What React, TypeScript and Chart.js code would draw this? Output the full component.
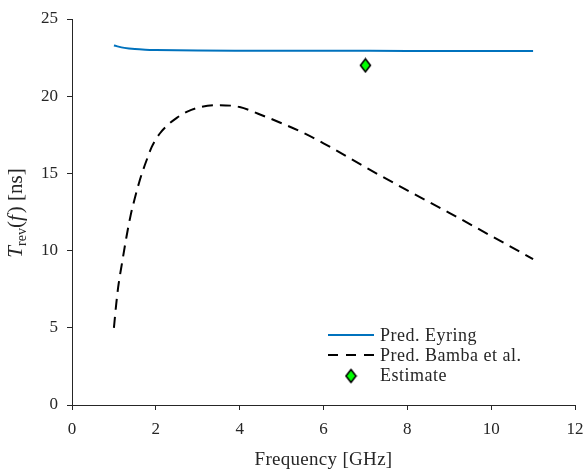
import React, { useEffect, useRef } from "react";
import { Chart, registerables } from "chart.js";

Chart.register(...registerables);

const eyringFreq = [1, 1.25, 1.5, 1.75, 2, 2.5, 3, 4, 5, 6, 8, 10, 11];
const eyringT = [23.28, 23.13, 23.05, 23.01, 22.99, 22.97, 22.96, 22.95, 22.945, 22.94, 22.935, 22.93, 22.93];

const bambaFreq = [1, 1.05, 1.1, 1.2, 1.3, 1.4, 1.5, 1.6, 1.7, 1.8, 1.9, 2, 2.1, 2.25, 2.5, 2.75, 3, 3.5, 4, 4.5, 5, 5.5, 6, 7, 8, 9, 10, 11];
const bambaT = [5.0, 6.4, 7.6, 9.3, 10.9, 12.3, 13.4, 14.4, 15.25, 16.0, 16.7, 17.2, 17.6, 18.05, 18.6, 19.0, 19.25, 19.42, 19.3, 18.8, 18.25, 17.65, 16.95, 15.4, 13.9, 12.45, 10.95, 9.45];

const estimateFreq = [7];
const estimateT = [22];

const legendLabels = ["Pred. Eyring", "Pred. Bamba et al.", "Estimate"];
const xTitle = "Frequency [GHz]";

const BLUE = "#0072BD";
const AXIS = "#262626";
const SERIF = '"Liberation Serif", "Times New Roman", serif';

function makeDiamond(w: number, h: number): HTMLCanvasElement {
  const c = document.createElement("canvas");
  c.width = w + 3;
  c.height = h + 3;
  const g = c.getContext("2d")!;
  const cx = c.width / 2;
  const cy = c.height / 2;
  g.beginPath();
  g.moveTo(cx, 1.5);
  g.lineTo(c.width - 1.5, cy);
  g.lineTo(cx, c.height - 1.5);
  g.lineTo(1.5, cy);
  g.closePath();
  g.fillStyle = "#00FF00";
  g.fill();
  g.lineWidth = 1.6;
  g.strokeStyle = "#000000";
  g.stroke();
  return c;
}

export default function App() {
  const ref = useRef<HTMLCanvasElement | null>(null);

  useEffect(() => {
    if (!ref.current) return;
    const diamond = makeDiamond(10, 13);

    const overlay = {
      id: "overlay",
      afterDraw(chart: any) {
        const ctx = chart.ctx as CanvasRenderingContext2D;
        const ca = chart.chartArea;
        ctx.save();
        // Legend
        const lx0 = ca.right - 247;
        const lx1 = ca.right - 201;
        const tx = ca.right - 195;
        const rows = [ca.bottom - 70, ca.bottom - 50, ca.bottom - 30];
        ctx.font = `18px ${SERIF}`;
        (ctx as any).letterSpacing = "0.5px";
        ctx.fillStyle = AXIS;
        ctx.textBaseline = "middle";
        ctx.textAlign = "left";
        ctx.strokeStyle = BLUE;
        ctx.lineWidth = 2;
        ctx.setLineDash([]);
        ctx.beginPath();
        ctx.moveTo(lx0, rows[0]);
        ctx.lineTo(lx1, rows[0]);
        ctx.stroke();
        ctx.strokeStyle = "#000";
        ctx.setLineDash([10, 8]);
        ctx.beginPath();
        ctx.moveTo(lx0, rows[1]);
        ctx.lineTo(lx1, rows[1]);
        ctx.stroke();
        ctx.setLineDash([]);
        ctx.drawImage(diamond, (lx0 + lx1) / 2 - diamond.width / 2, rows[2] + 1 - diamond.height / 2);
        legendLabels.forEach((l, i) => {
          ctx.fillText(l, tx, rows[i] + 1);
        });

        // X title
        ctx.font = `19px ${SERIF}`;
        (ctx as any).letterSpacing = "0.3px";
        ctx.textAlign = "center";
        ctx.textBaseline = "alphabetic";
        ctx.fillText(xTitle, (ca.left + ca.right) / 2, ca.bottom + 60);
        (ctx as any).letterSpacing = "0px";

        // Y title
        const pieces = [
          { t: "T", f: `italic 21px ${SERIF}`, dy: 0 },
          { t: "rev", f: `14px ${SERIF}`, dy: 4 },
          { t: "(", f: `21px ${SERIF}`, dy: 0 },
          { t: "f", f: `italic 21px ${SERIF}`, dy: 0 },
          { t: ") [ns]", f: `21px ${SERIF}`, dy: 0 },
        ];
        let total = 0;
        const widths = pieces.map((p) => {
          ctx.font = p.f;
          const w = ctx.measureText(p.t).width + (p.t === "f" ? 2 : 0);
          total += w;
          return w;
        });
        ctx.translate(22, (ca.top + ca.bottom) / 2 + 1);
        ctx.rotate(-Math.PI / 2);
        ctx.textAlign = "left";
        let x = -total / 2;
        pieces.forEach((p, i) => {
          ctx.font = p.f;
          ctx.fillText(p.t, x, p.dy);
          x += widths[i];
        });
        ctx.restore();
      },
    };

    const chart = new Chart(ref.current, {
      type: "line",
      data: {
        datasets: [
          {
            label: legendLabels[0],
            data: eyringFreq.map((x, i) => ({ x, y: eyringT[i] })),
            borderColor: BLUE,
            borderWidth: 2,
            pointRadius: 0,
            cubicInterpolationMode: "monotone",
            fill: false,
          },
          {
            label: legendLabels[1],
            data: bambaFreq.map((x, i) => ({ x, y: bambaT[i] })),
            borderColor: "#000000",
            borderWidth: 2,
            borderDash: [11, 7],
            pointRadius: 0,
            cubicInterpolationMode: "monotone",
            fill: false,
          },
          {
            label: legendLabels[2],
            data: estimateFreq.map((x, i) => ({ x, y: estimateT[i] })),
            showLine: false,
            pointStyle: diamond as any,
            pointRadius: 6,
            borderColor: "#000",
            backgroundColor: "#00FF00",
          },
        ],
      },
      options: {
        responsive: false,
        animation: false,
        devicePixelRatio: 1,
        layout: { padding: { left: 0, right: 11, top: 19, bottom: 0 } },
        plugins: {
          legend: { display: false },
          tooltip: { enabled: false },
        },
        scales: {
          x: {
            type: "linear",
            min: 0,
            max: 12,
            afterFit(scale: any) {
              scale.height = 64;
              scale.paddingRight = 0;
              scale.paddingLeft = 0;
            },
            ticks: {
              stepSize: 2,
              color: AXIS,
              font: { family: SERIF, size: 17 },
              padding: 9,
              maxRotation: 0,
            },
            grid: {
              drawOnChartArea: false,
              drawTicks: true,
              tickLength: 5,
              color: AXIS,
            },
            border: { display: true, color: AXIS, width: 1 },
          },
          y: {
            type: "linear",
            min: 0,
            max: 25,
            afterFit(scale: any) {
              scale.width = 72;
              scale.paddingTop = 0;
              scale.paddingBottom = 0;
            },
            ticks: {
              stepSize: 5,
              color: AXIS,
              font: { family: SERIF, size: 17 },
              padding: 9,
            },
            grid: {
              drawOnChartArea: false,
              drawTicks: true,
              tickLength: 5,
              color: AXIS,
            },
            border: { display: true, color: AXIS, width: 1 },
          },
        },
      },
      plugins: [overlay],
    });
    return () => chart.destroy();
  }, []);

  return (
    <div style={{ position: "fixed", left: 0, top: 0, width: 586, height: 469, background: "#fff" }}>
      <canvas ref={ref} width={586} height={469} style={{ width: 586, height: 469, display: "block" }} />
    </div>
  );
}
